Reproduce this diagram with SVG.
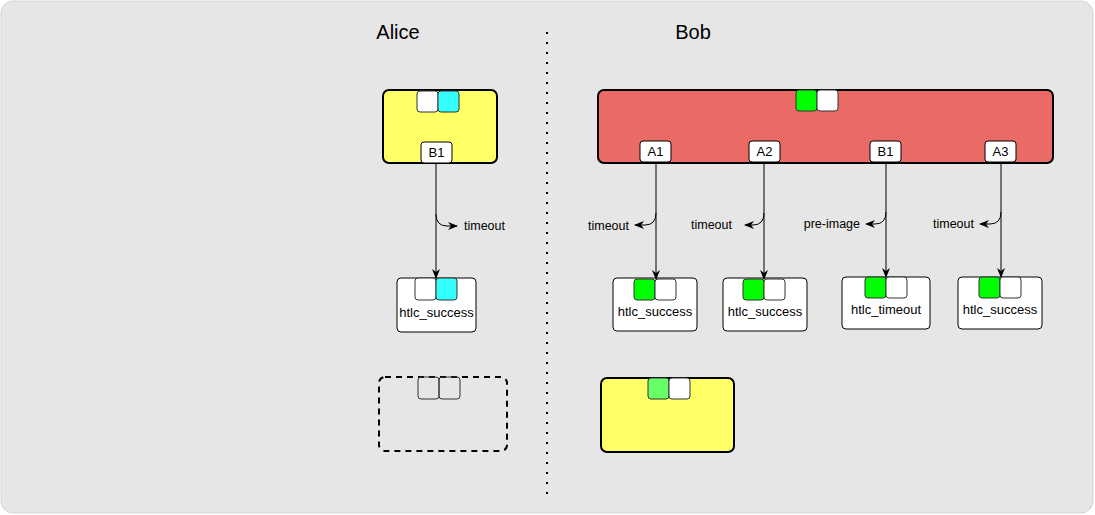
<svg xmlns="http://www.w3.org/2000/svg" width="1095" height="515" viewBox="0 0 1095 515">
<style>
.t{font-family:"Liberation Sans",Arial,sans-serif;fill:#000}
.title{font-size:20px}
.lbl{font-size:13px}
.elbl{font-size:12.5px}
.box{stroke:#000;stroke-width:2}
.node{fill:#fff;stroke:#000;stroke-width:1}
.sq{stroke:#333;stroke-width:1}
.edge{fill:none;stroke:#000;stroke-width:1}
</style>
<defs>
<marker id="arr" viewBox="0 0 10 10" refX="9" refY="5" markerWidth="10" markerHeight="10" markerUnits="userSpaceOnUse" orient="auto">
<path d="M0,1 L10,5 L0,9 L3,5 z" fill="#000"/>
</marker>
</defs>
<rect x="1" y="1" width="1092" height="512" rx="12" fill="#e6e6e6" stroke="#d4d4d4" stroke-width="1"/>
<text class="t title" x="398" y="39" text-anchor="middle">Alice</text>
<text class="t title" x="693" y="39" text-anchor="middle">Bob</text>
<line x1="547" y1="32" x2="547" y2="495" stroke="#000" stroke-width="2" stroke-dasharray="2 8"/>

<g id="alice-commit">
<rect class="box" x="383" y="90" width="114" height="73" rx="6" fill="#ffff66"/>
<rect class="sq" x="417" y="91" width="21" height="21" rx="3" fill="#fff"/>
<rect class="sq" x="438" y="91" width="21" height="21" rx="3" fill="#33ffff"/>
<rect class="node" x="421" y="142" width="31" height="21" rx="3" stroke="#333"/>
<text class="t lbl" x="436.5" y="157" text-anchor="middle">B1</text>
</g>
<g id="alice-htlc">
<rect class="node" x="397" y="278" width="79" height="54" rx="4"/>
<rect class="sq" x="415" y="278" width="21" height="22" rx="3" fill="#fff"/>
<rect class="sq" x="436" y="278" width="21" height="22" rx="3" fill="#33ffff"/>
<text class="t lbl" x="436.5" y="317" text-anchor="middle">htlc_success</text>
</g>
<g id="alice-dashed">
<rect x="379" y="377" width="128" height="74" rx="6" fill="none" stroke="#000" stroke-width="2" stroke-dasharray="6 5"/>
<rect class="sq" x="418" y="377" width="21" height="22" rx="3" fill="none"/>
<rect class="sq" x="439" y="377" width="21" height="22" rx="3" fill="none"/>
</g>

<g id="bob-commit">
<rect class="box" x="598" y="90" width="455" height="73" rx="6" fill="#ea6b66"/>
<rect class="sq" x="796" y="90" width="21" height="21" rx="3" fill="#00ff00"/>
<rect class="sq" x="817" y="90" width="21" height="21" rx="3" fill="#fff"/>
<rect class="node" x="640" y="141" width="31" height="21" rx="3" stroke="#333"/>
<text class="t lbl" x="655.5" y="156" text-anchor="middle">A1</text>
<rect class="node" x="749" y="141" width="31" height="21" rx="3" stroke="#333"/>
<text class="t lbl" x="764.5" y="156" text-anchor="middle">A2</text>
<rect class="node" x="870" y="141" width="31" height="21" rx="3" stroke="#333"/>
<text class="t lbl" x="885.5" y="156" text-anchor="middle">B1</text>
<rect class="node" x="985" y="141" width="31" height="21" rx="3" stroke="#333"/>
<text class="t lbl" x="1000.5" y="156" text-anchor="middle">A3</text>
</g>
<g id="bob-htlc1">
<rect class="node" x="613" y="278" width="84" height="53" rx="4"/>
<rect class="sq" x="634" y="279" width="21" height="21" rx="3" fill="#00ff00"/>
<rect class="sq" x="655" y="279" width="21" height="21" rx="3" fill="#fff"/>
<text class="t lbl" x="655" y="316" text-anchor="middle">htlc_success</text>
</g>
<g id="bob-htlc2">
<rect class="node" x="723" y="278" width="84" height="53" rx="4"/>
<rect class="sq" x="743" y="279" width="21" height="21" rx="3" fill="#00ff00"/>
<rect class="sq" x="764" y="279" width="21" height="21" rx="3" fill="#fff"/>
<text class="t lbl" x="765" y="316" text-anchor="middle">htlc_success</text>
</g>
<g id="bob-htlc3">
<rect class="node" x="842" y="277" width="88" height="52" rx="4"/>
<rect class="sq" x="865" y="277" width="21" height="21" rx="3" fill="#00ff00"/>
<rect class="sq" x="886" y="277" width="21" height="21" rx="3" fill="#fff"/>
<text class="t lbl" x="886" y="314" text-anchor="middle">htlc_timeout</text>
</g>
<g id="bob-htlc4">
<rect class="node" x="958" y="277" width="84" height="52" rx="4"/>
<rect class="sq" x="979" y="277" width="21" height="21" rx="3" fill="#00ff00"/>
<rect class="sq" x="1000" y="277" width="21" height="21" rx="3" fill="#fff"/>
<text class="t lbl" x="1000" y="314" text-anchor="middle">htlc_success</text>
</g>
<g id="bob-next">
<rect class="box" x="601" y="378" width="133" height="74" rx="6" fill="#ffff66"/>
<rect class="sq" x="648" y="378" width="21" height="21" rx="3" fill="#66ff66"/>
<rect class="sq" x="669" y="378" width="21" height="21" rx="3" fill="#fff"/>
</g>

<g id="connectors">
<path class="edge" d="M436,163 L436,278" marker-end="url(#arr)"/>
<path class="edge" d="M436,214 Q436,226 447,226 L457,226" marker-end="url(#arr)"/>
<path class="edge" d="M656,162 L656,279" marker-end="url(#arr)"/>
<path class="edge" d="M656,213 Q656,225 645,225 L635,225" marker-end="url(#arr)"/>
<path class="edge" d="M764,162 L764,279" marker-end="url(#arr)"/>
<path class="edge" d="M764,213 Q764,225 753,225 L745,225" marker-end="url(#arr)"/>
<path class="edge" d="M886,162 L886,277" marker-end="url(#arr)"/>
<path class="edge" d="M886,212 Q886,224 875,224 L866,224" marker-end="url(#arr)"/>
<path class="edge" d="M1001,162 L1001,277" marker-end="url(#arr)"/>
<path class="edge" d="M1001,212 Q1001,224 990,224 L980,224" marker-end="url(#arr)"/>
</g>
<text class="t elbl" x="464" y="230">timeout</text>
<text class="t elbl" x="629" y="230" text-anchor="end">timeout</text>
<text class="t elbl" x="732" y="229" text-anchor="end">timeout</text>
<text class="t elbl" x="860" y="228" text-anchor="end">pre-image</text>
<text class="t elbl" x="974" y="228" text-anchor="end">timeout</text>
</svg>
